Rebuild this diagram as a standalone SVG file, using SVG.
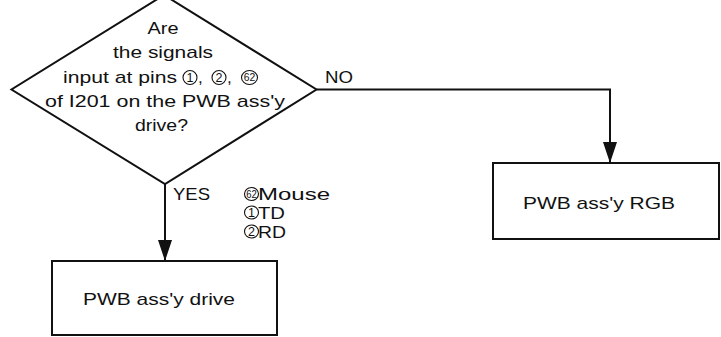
<svg xmlns="http://www.w3.org/2000/svg" width="721" height="337" viewBox="0 0 721 337">
<style>
  text { font-family: "Liberation Sans", Arial, Helvetica, sans-serif; font-size: 17px; fill: #111; }
  .digit { font-size: 12.5px; text-anchor: middle; }
  .digit2 { font-size: 10px; text-anchor: middle; }
  .shape { fill: #fff; stroke: #111; stroke-width: 2; }
  .ring { fill: none; stroke: #111; stroke-width: 1.1; }
  .conn { fill: none; stroke: #111; stroke-width: 2; }
</style>
<defs>
  <marker id="arrow" viewBox="0 -7 21 14" refX="21" refY="0" markerWidth="21" markerHeight="14" markerUnits="userSpaceOnUse" orient="auto">
    <path d="M0,-7 L21,0 L0,7 z" fill="#111"/>
  </marker>
</defs>
<rect width="721" height="337" fill="#fff"/>

<g id="connectors">
  <line class="conn" x1="165" y1="184" x2="165" y2="261" marker-end="url(#arrow)"/>
  <polyline class="conn" points="316.5,89.5 610,89.5 610,163" marker-end="url(#arrow)"/>
  <text x="325" y="83" textLength="28" lengthAdjust="spacingAndGlyphs">NO</text>
  <text x="173" y="200" textLength="37" lengthAdjust="spacingAndGlyphs">YES</text>
</g>

<g id="decision">
  <polygon class="shape" points="164,-5 316.5,89.5 165,184 11.5,89.5"/>
  <text x="163" y="34" text-anchor="middle" textLength="31" lengthAdjust="spacingAndGlyphs">Are</text>
  <text x="163" y="58" text-anchor="middle" textLength="100" lengthAdjust="spacingAndGlyphs">the signals</text>
  <text x="63" y="83" textLength="114" lengthAdjust="spacingAndGlyphs">input at pins</text>
  <ellipse class="ring" cx="190" cy="77.5" rx="7" ry="7"/>
  <text class="digit" x="190" y="82">1</text>
  <text x="198" y="83">,</text>
  <ellipse class="ring" cx="219" cy="77.5" rx="7" ry="7"/>
  <text class="digit" x="219" y="82">2</text>
  <text x="227" y="83">,</text>
  <ellipse class="ring" cx="249.5" cy="77.5" rx="8" ry="7"/>
  <text class="digit2" x="249.5" y="81" textLength="11.5" lengthAdjust="spacingAndGlyphs">62</text>
  <text x="45" y="107" textLength="240" lengthAdjust="spacingAndGlyphs">of I201 on the PWB ass'y</text>
  <text x="135" y="131" textLength="53" lengthAdjust="spacingAndGlyphs">drive?</text>
</g>

<g id="pin-legend">
  <ellipse class="ring" cx="251.5" cy="194" rx="7" ry="6.5"/>
  <text class="digit2" x="251.5" y="197.5" textLength="10.5" lengthAdjust="spacingAndGlyphs">62</text>
  <text x="258" y="200" textLength="72" lengthAdjust="spacingAndGlyphs">Mouse</text>
  <ellipse class="ring" cx="251.5" cy="212.5" rx="7" ry="6.5"/>
  <text class="digit" x="251.5" y="217">1</text>
  <text x="258" y="219" textLength="27" lengthAdjust="spacingAndGlyphs">TD</text>
  <ellipse class="ring" cx="251.5" cy="231.5" rx="7" ry="6.5"/>
  <text class="digit" x="251.5" y="236">2</text>
  <text x="258" y="238" textLength="28" lengthAdjust="spacingAndGlyphs">RD</text>
</g>

<g id="box-rgb">
  <rect class="shape" x="493" y="163" width="226" height="76"/>
  <text x="523" y="209" textLength="152" lengthAdjust="spacingAndGlyphs">PWB ass'y RGB</text>
</g>

<g id="box-drive">
  <rect class="shape" x="52" y="261" width="225" height="74"/>
  <text x="83" y="305" textLength="152" lengthAdjust="spacingAndGlyphs">PWB ass'y drive</text>
</g>
</svg>
